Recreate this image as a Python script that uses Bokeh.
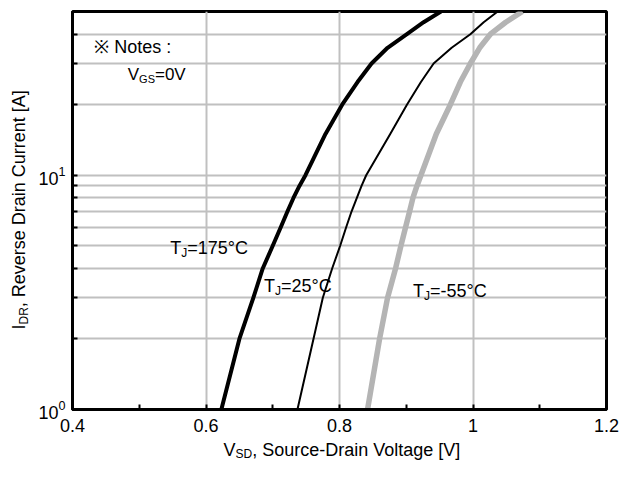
import math
from bokeh.plotting import figure
from bokeh.layouts import row, column
from bokeh.models import Range1d, FixedTicker, Label, LogTickFormatter
from bokeh.embed import file_html
from bokeh.resources import INLINE

# ---- data ----
I_DR = [1, 2, 3, 4, 5, 6, 7, 8, 9, 10, 15, 20, 25, 30, 35, 40, 45, 50]   # A
V_175 = [0.623, 0.650, 0.671, 0.685, 0.700, 0.712, 0.722, 0.731, 0.740, 0.749,
         0.779, 0.804, 0.827, 0.848, 0.872, 0.901, 0.926, 0.952]
V_25 = [0.737, 0.761, 0.775, 0.789, 0.801, 0.810, 0.818, 0.826, 0.833, 0.840,
        0.876, 0.901, 0.922, 0.941, 0.968, 0.996, 1.016, 1.037]
V_M55 = [0.842, 0.860, 0.872, 0.884, 0.892, 0.899, 0.905, 0.910, 0.916, 0.922,
         0.945, 0.966, 0.981, 0.996, 1.010, 1.026, 1.049, 1.074]

X_TICKS = [0.4, 0.6, 0.8, 1.0, 1.2]
X_TICK_LABELS = ["0.4", "0.6", "0.8", "1", "1.2"]
X_MINOR = [0.5, 0.7, 0.9, 1.1]
Y_TICKS = [1, 10]
Y_MINOR = [2, 3, 4, 5, 6, 7, 8, 9, 20, 30, 40]

FONT = "Liberation Sans"
GRID = "#c0c0c0"

# ---- main chart ----
p = figure(width=587, height=439, output_backend="svg", toolbar_location=None,
           y_axis_type="log", x_range=Range1d(0.4, 1.2), y_range=Range1d(1, 50),
           min_border_left=40, min_border_right=13, min_border_top=11,
           min_border_bottom=30)
p.background_fill_color = "white"
p.border_fill_color = "white"
p.outline_line_color = "black"
p.outline_line_width = 3

p.xaxis.ticker = FixedTicker(ticks=X_TICKS, minor_ticks=X_MINOR)
p.xaxis.major_label_overrides = {t: s for t, s in zip(X_TICKS, X_TICK_LABELS)}
p.yaxis.ticker = FixedTicker(ticks=Y_TICKS, minor_ticks=Y_MINOR)
p.yaxis.formatter = LogTickFormatter()

for ax in (p.xaxis, p.yaxis):
    ax.axis_line_color = "black"
    ax.axis_line_width = 3
    ax.major_tick_in = 5
    ax.major_tick_out = 0
    ax.minor_tick_in = 5
    ax.minor_tick_out = 0
    ax.major_tick_line_color = "black"
    ax.minor_tick_line_color = "black"
    ax.major_tick_line_width = 2
    ax.minor_tick_line_width = 2
    ax.major_label_text_font = FONT
    ax.major_label_text_font_size = "18px"
    ax.major_label_text_color = "black"
p.xaxis.major_label_standoff = 9
p.yaxis.major_label_standoff = 7

p.xgrid.grid_line_color = GRID
p.xgrid.grid_line_width = 2
p.ygrid.grid_line_color = GRID
p.ygrid.grid_line_width = 2
p.ygrid.minor_grid_line_color = GRID
p.ygrid.minor_grid_line_width = 2

p.line(V_M55, I_DR, line_color="#b4b4b4", line_width=5.5, line_join="round")
p.line(V_25, I_DR, line_color="black", line_width=2, line_join="round")
p.line(V_175, I_DR, line_color="black", line_width=4, line_join="round")


def lab(fig, x, y, text, size, dx=0.0, dy=0.0, rotated=False):
    """Place text whose baseline starts at (x, y) shifted by (dx, dy) px."""
    half = 0.35 * size
    if rotated:
        dx -= half
    else:
        dy += half
    fig.add_layout(Label(x=x, y=y, x_offset=dx, y_offset=dy, text=text,
                         text_font=FONT, text_font_size=f"{size}px",
                         text_color="black", text_baseline="middle",
                         text_align="left",
                         angle=math.pi / 2 if rotated else 0.0))


def tj_label(x, y, rest):
    lab(p, x, y, "T", 18)
    lab(p, x, y, "J", 12, dx=11.0, dy=-3)
    lab(p, x, y, rest, 18, dx=17.0)


tj_label(0.5464, 4.58, "=175°C")
tj_label(0.6869, 3.16, "=25°C")
tj_label(0.9102, 3.01, "=-55°C")

lab(p, 0.4325, 33.2, "※ Notes :", 18)
lab(p, 0.4828, 25.5, "V", 17)
lab(p, 0.4828, 25.5, "GS", 11, dx=11.3, dy=-3)
lab(p, 0.4828, 25.5, "=0V", 17, dx=27.2)


def strip(w, h, x_range=None, y_range=None, left=0, right=0, top=0, bottom=0):
    f = figure(width=w, height=h, output_backend="svg", toolbar_location=None,
               x_range=x_range if x_range is not None else Range1d(0, w),
               y_range=y_range if y_range is not None else Range1d(0, h),
               x_axis_location=None, y_axis_location=None,
               min_border=0, min_border_left=left, min_border_right=right,
               min_border_top=top, min_border_bottom=bottom)
    f.outline_line_color = None
    f.grid.visible = False
    f.background_fill_color = "white"
    f.border_fill_color = "white"
    return f


# ---- x axis title strip (shares the chart's x range) ----
xt = strip(587, 22, x_range=p.x_range, left=40, right=13)
lab(xt, 0.4, 5.2, "V", 18, dx=151)
lab(xt, 0.4, 3.0, "SD", 12, dx=163)
lab(xt, 0.4, 5.2, ", Source-Drain Voltage [V]", 18, dx=179.7)

# ---- y axis title strip (shares the chart's y range) ----
yt = strip(32, 461, y_range=p.y_range, top=11, bottom=52)
lab(yt, 25, 1, "I", 18, dy=80, rotated=True)
lab(yt, 28, 1, "DR", 12, dy=85, rotated=True)
lab(yt, 25, 1, ", Reverse Drain Current [A]", 18, dy=102.3, rotated=True)

layout = row(yt, column(p, xt, spacing=0), spacing=0)
open("out.html", "w").write(file_html(layout, INLINE))
